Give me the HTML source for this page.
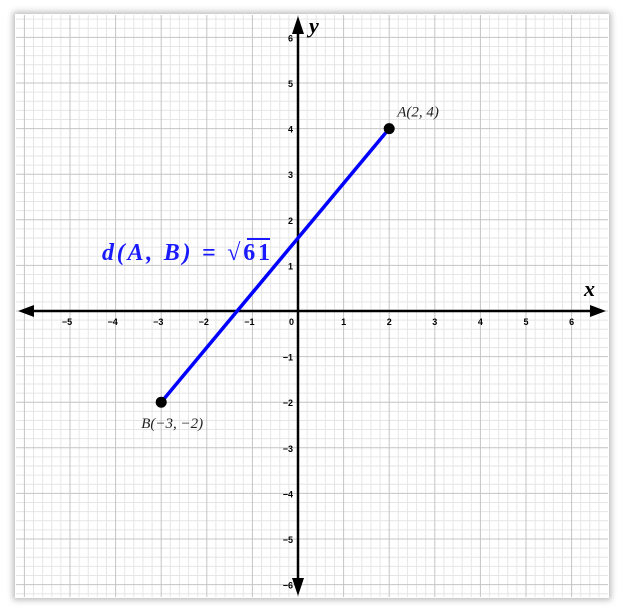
<!DOCTYPE html>
<html><head><meta charset="utf-8"><style>
html,body{margin:0;padding:0;background:#fff;width:624px;height:612px;overflow:hidden}
#frame{position:absolute;left:15px;top:14px;width:594px;height:584px;background:#fff;box-shadow:0 0 6px 2px rgba(0,0,0,0.28)}
svg{position:absolute;left:0;top:0}
</style></head><body>
<div id="frame"></div>
<svg id="chart" width="624" height="612"></svg>
<script>
const xTicks=[-5,-4,-3,-2,-1,0,1,2,3,4,5,6];
const yTicks=[-6,-5,-4,-3,-2,-1,1,2,3,4,5,6];
const pointNames=["A","B"];
const pointX=[2,-3];
const pointY=[4,-2];
const pointLabels=["A(2, 4)","B(\u22123, \u22122)"];
const distanceLabel="\u221A61";
const ox=298,oy=311,u=45.6;
const X=v=>ox+v*u, Y=v=>oy-v*u;
const svg=document.getElementById('chart');
const NS='http://www.w3.org/2000/svg';
function mk(t,a){const e=document.createElementNS(NS,t);for(const k in a)e.setAttribute(k,a[k]);svg.appendChild(e);return e;}
const L=16,R=608,T=15,B=597;
for(let i=-80;i<=80;i++){const v=i/5;const x=X(v);if(x>=L&&x<=R&&i%5!==0){const e=mk('line',{x1:x,x2:x,y1:T,y2:B,stroke:'#e6e6e6','stroke-width':1});

}
const y=Y(v);if(y>=T&&y<=B&&i%5!==0){const e=mk('line',{x1:L,x2:R,y1:y,y2:y,stroke:'#e6e6e6','stroke-width':1});

}}
for(let i=-16;i<=16;i++){const x=X(i);if(x>=L&&x<=R){const e=mk('line',{x1:x,x2:x,y1:T,y2:B,stroke:'#c4c4c4','stroke-width':1});

}
const y=Y(i);if(y>=T&&y<=B){const e=mk('line',{x1:L,x2:R,y1:y,y2:y,stroke:'#c4c4c4','stroke-width':1});

}}
let ax=mk('line',{x1:30,x2:596,y1:oy,y2:oy,stroke:'#000','stroke-width':2.5});


let ay=mk('line',{x1:ox,x2:ox,y1:28,y2:586,stroke:'#000','stroke-width':2.5});


const arrows=[[`18,${oy} 34,${oy-6} 34,${oy+6}`,'x-arrow-left'],[`606,${oy} 590,${oy-6} 590,${oy+6}`,'x-arrow-right'],[`${ox},16 ${ox-6},34 ${ox+6},34`,'y-arrow-up'],[`${ox},596 ${ox-6},578 ${ox+6},578`,'y-arrow-down']];
arrows.forEach(a=>{const p=mk('polygon',{points:a[0],fill:'#000'});

});
const fmt=v=>v<0?'\u2212'+(-v):String(v);
xTicks.forEach(v=>{const t=mk('text',{x:v===0?X(v)-9:X(v)-(v<0?3:0),y:oy+14,'font-family':'Liberation Sans, sans-serif','font-size':9,'font-weight':'bold','text-anchor':v===0?'start':'middle'});t.textContent=fmt(v);

});
yTicks.forEach(v=>{const t=mk('text',{x:ox-5,y:Y(v)+4,'font-family':'Liberation Sans, sans-serif','font-size':9,'font-weight':'bold','text-anchor':'end'});t.textContent=fmt(v);

});
let xt=mk('text',{x:584,y:296,'font-family':'Liberation Serif, serif','font-size':22,'font-style':'italic','font-weight':'bold'});xt.textContent='x';


let yt=mk('text',{x:309,y:33,'font-family':'Liberation Serif, serif','font-size':22,'font-style':'italic','font-weight':'bold'});yt.textContent='y';


let seg=mk('line',{x1:X(pointX[0]),y1:Y(pointY[0]),x2:X(pointX[1]),y2:Y(pointY[1]),stroke:'#0000ff','stroke-width':3.5});


pointNames.forEach((n,i)=>{const c=mk('circle',{cx:X(pointX[i]),cy:Y(pointY[i]),r:5.5,fill:'#000'});


const dx=i===0?8:-20, dy=i===0?-12:26;
const t=mk('text',{x:X(pointX[i])+dx,y:Y(pointY[i])+dy,'font-family':'Liberation Serif, serif','font-size':15,'font-style':'italic',fill:'#222'});t.textContent=pointLabels[i];

});
const dl=mk('text',{x:102,y:260,'font-family':'Liberation Serif, serif','font-size':24,'font-weight':'bold','font-style':'italic',fill:'#1a1aff',textLength:168,lengthAdjust:'spacing'});
dl.innerHTML='d(A, B) <tspan font-style="normal">=</tspan> <tspan font-style="normal">'+distanceLabel+'</tspan>';


let bar=mk('line',{x1:247,x2:270,y1:239,y2:239,stroke:'#1a1aff','stroke-width':2});


</script>
</body></html>
